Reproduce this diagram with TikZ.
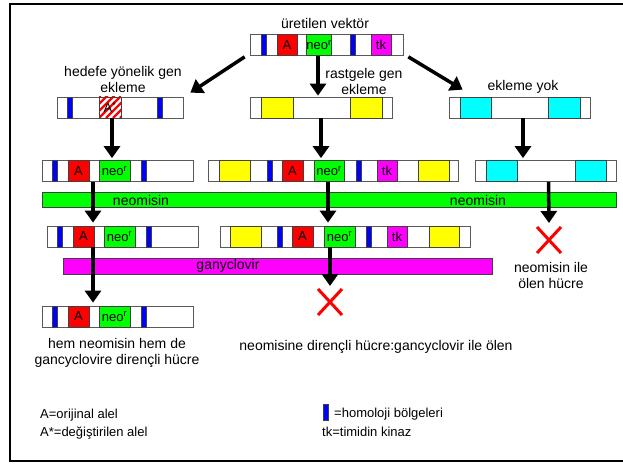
\documentclass[tikz,border=0pt]{standalone}
\usepackage{fontspec}
\setmainfont{Liberation Sans}
\usetikzlibrary{arrows.meta,shapes.misc}

\definecolor{segred}{RGB}{255,0,0}
\definecolor{seggreen}{RGB}{0,255,0}
\definecolor{segblue}{RGB}{0,0,255}
\definecolor{segmagenta}{RGB}{255,0,255}
\definecolor{segyellow}{RGB}{255,255,0}
\definecolor{segcyan}{RGB}{0,255,255}

\tikzset{
  lbl/.style={font=\fontsize{14}{16}\selectfont, inner sep=0pt},
  leglbl/.style={font=\fontsize{13}{15}\selectfont, inner sep=0pt, anchor=west},
  cbox/.style={draw=gray!70!black, fill=white, line width=0.7pt, minimum height=21pt, inner sep=0pt},
  segbox/.style={draw=gray!50!black, line width=0.6pt, minimum height=21pt, inner sep=0pt, font=\fontsize{13}{15}\selectfont},
  selbar/.style={draw=gray!50!black, line width=0.6pt, inner sep=0pt},
  bigarrow/.style={line width=3.5pt, -{Triangle[length=12pt,width=16pt]}},
  deadcell/.style={cross out, draw=segred, line width=3pt, minimum width=21pt, minimum height=23pt},
  hatched/.style={path picture={
      \foreach \k in {-4,...,4}
        \draw[segred, line width=2.2pt] ([xshift=\k*7pt]path picture bounding box.south west) -- ++(28pt,28pt);
    }},
}

% one piece of a construct: name, colour, left, right, centre y, text
\newcommand{\gsegment}[6]{\node[segbox, fill=#2, minimum width={(#4-#3)*1pt}] (#1) at ({(#3+#4)/2},#5) {#6};}
% empty construct: name, left, right, centre y
\newcommand{\dnabox}[4]{\node[cbox, minimum width={(#3-#2)*1pt}] (#1) at ({(#2+#3)/2},#4) {};}
\newcommand{\neor}{neo\textsuperscript{r}}

\begin{document}
\begin{tikzpicture}[x=1pt,y=-1pt]
\useasboundingbox (0,0) rectangle (623,465);
%Frame
\draw[line width=2pt] (640,4) -- (10,4) -- (10,461) -- (640,461);

%Vector
\node[lbl] (vectxt) at (325,23) {üretilen vektör};
\dnabox{vec}{250}{403}{45}
\gsegment{vecb1}{segblue}{261}{266}{45}{}
\gsegment{vecA}{segred}{277}{297}{45}{A}
\gsegment{vecneo}{seggreen}{308}{330}{45}{\neor}
\gsegment{vecb2}{segblue}{350}{355}{45}{}
\gsegment{vectk}{segmagenta}{371}{391}{45}{tk}

%Row 1
\node[lbl, align=center] (hedef) at (123,79.5) {hedefe yönelik gen\\ekleme};
\node[lbl, align=center] (rastgele) at (364,81.5) {rastgele gen\\ekleme};
\node[lbl] (yok) at (523,87) {ekleme yok};
\dnabox{ra}{57}{183}{107.5}
\gsegment{rab1}{segblue}{67}{72}{107.5}{}
\node[segbox, fill=white, hatched, minimum width=22pt] (raA) at (110,107.5) {A\textsuperscript{*}};
\gsegment{rab2}{segblue}{157}{162}{107.5}{}
\dnabox{rb}{250}{392}{107.5}
\gsegment{rby1}{segyellow}{261}{293}{107.5}{}
\gsegment{rby2}{segyellow}{350}{382}{107.5}{}
\dnabox{rc}{449}{590}{107.5}
\gsegment{rcc1}{segcyan}{460}{491}{107.5}{}
\gsegment{rcc2}{segcyan}{548}{580}{107.5}{}

%Row 2
\dnabox{sa}{42}{193}{171}
\gsegment{sab1}{segblue}{52}{57}{171}{}
\gsegment{saA}{segred}{68}{89}{171}{A}
\gsegment{saneo}{seggreen}{99}{130}{171}{\neor}
\gsegment{sab2}{segblue}{141}{146}{171}{}
\dnabox{sb}{208}{458}{171}
\gsegment{sby1}{segyellow}{219}{250}{171}{}
\gsegment{sbb1}{segblue}{267}{272}{171}{}
\gsegment{sbA}{segred}{282}{303}{171}{A}
\gsegment{sbneo}{seggreen}{314}{344}{171}{\neor}
\gsegment{sbb2}{segblue}{356}{361}{171}{}
\gsegment{sbtk}{segmagenta}{377}{397}{171}{tk}
\gsegment{sby2}{segyellow}{418}{449}{171}{}
\dnabox{sc}{475}{616}{171}
\gsegment{scc1}{segcyan}{486}{517}{171}{}
\gsegment{scc2}{segcyan}{575}{606}{171}{}

%Neomisin
\node[selbar, fill=seggreen, minimum width=574pt, minimum height=15pt] (neobar) at (329,199.5) {};
\node[lbl] (neotxt1) at (141,200) {neomisin};
\node[lbl] (neotxt2) at (478,200) {neomisin};

%Row 3
\dnabox{ta}{47}{198}{236.5}
\gsegment{tab1}{segblue}{57}{62}{236.5}{}
\gsegment{taA}{segred}{73}{94}{236.5}{A}
\gsegment{taneo}{seggreen}{104}{135}{236.5}{\neor}
\gsegment{tab2}{segblue}{146}{151}{236.5}{}
\dnabox{tb}{220}{470}{236.5}
\gsegment{tby1}{segyellow}{230}{261}{236.5}{}
\gsegment{tbb1}{segblue}{277}{282}{236.5}{}
\gsegment{tbA}{segred}{292}{313}{236.5}{A}
\gsegment{tbneo}{seggreen}{324}{355}{236.5}{\neor}
\gsegment{tbb2}{segblue}{366}{371}{236.5}{}
\gsegment{tbtk}{segmagenta}{387}{407}{236.5}{tk}
\gsegment{tby2}{segyellow}{429}{459}{236.5}{}
\node[deadcell] (dead1) at (549,240) {};
\node[lbl, align=center] (dead1txt) at (551,275) {neomisin ile\\ölen hücre};

%Ganyclovir
\node[selbar, fill=segmagenta, minimum width=429pt, minimum height=16pt] (ganbar) at (277.5,266) {};
\node[lbl] (gantxt) at (228,266) {ganyclovir};

%Row 4
\dnabox{ua}{42}{193}{316.5}
\gsegment{uab1}{segblue}{52}{57}{316.5}{}
\gsegment{uaA}{segred}{68}{89}{316.5}{A}
\gsegment{uaneo}{seggreen}{99}{130}{316.5}{\neor}
\gsegment{uab2}{segblue}{141}{146}{316.5}{}
\node[lbl, align=center] (uatxt) at (117,353) {hem neomisin hem de\\gancyclovire dirençli hücre};
\node[deadcell] (dead2) at (330,302) {};
\node[lbl] (dead2txt) at (376,347) {neomisine dirençli hücre:gancyclovir ile ölen};

%Arrows
\draw[bigarrow] ([shift={(-5pt,-1pt)}]vec.south west) -- ([shift={(7pt,4pt)}]ra.north east);
\draw[bigarrow] ([xshift=-3pt]rb.north |- vec.south) -- ([shift={(-3pt,1pt)}]rb.north);
\draw[bigarrow] ([shift={(5pt,-1pt)}]vec.south east) -- ([shift={(14pt,7pt)}]rc.north west);
\draw[bigarrow] ([xshift=-8pt]ra.south) -- ([shift={(-8pt,2pt)}]ra.south |- sa.north);
\draw[bigarrow] (rb.south) -- ([yshift=2pt]rb.south |- sa.north);
\draw[bigarrow] ([xshift=3.5pt]rc.south) -- ([shift={(3.5pt,2pt)}]rc.south |- sc.north);
\draw[bigarrow] ([xshift=-24.5pt]sa.south) -- ([shift={(-24.5pt,3pt)}]sa.south |- ta.north);
\draw[bigarrow] ([xshift=-5pt]sb.south) -- ([shift={(-5pt,3pt)}]sb.south |- tb.north);
\draw[bigarrow] ([xshift=3pt]sc.south) -- ([yshift=4pt]dead1.north);
\draw[bigarrow] ([xshift=-29.5pt]ta.south) -- ([shift={(-29.5pt,3pt)}]ta.south |- ua.north);
\draw[bigarrow] ([xshift=-15pt]tb.south) -- ([yshift=3pt]dead2.north);

%Legend
\node[leglbl] (leg1) at (40,415) {A=orijinal alel};
\node[leglbl] (leg2) at (40,433) {A*=değiştirilen alel};
\node[selbar, fill=segblue, minimum width=5pt, minimum height=16pt] (legbar) at (325.5,412) {};
\node[leglbl] (leg3) at (334,414) {=homoloji bölgeleri};
\node[leglbl] (leg4) at (322,432) {tk=timidin kinaz};
\end{tikzpicture}
\end{document}
